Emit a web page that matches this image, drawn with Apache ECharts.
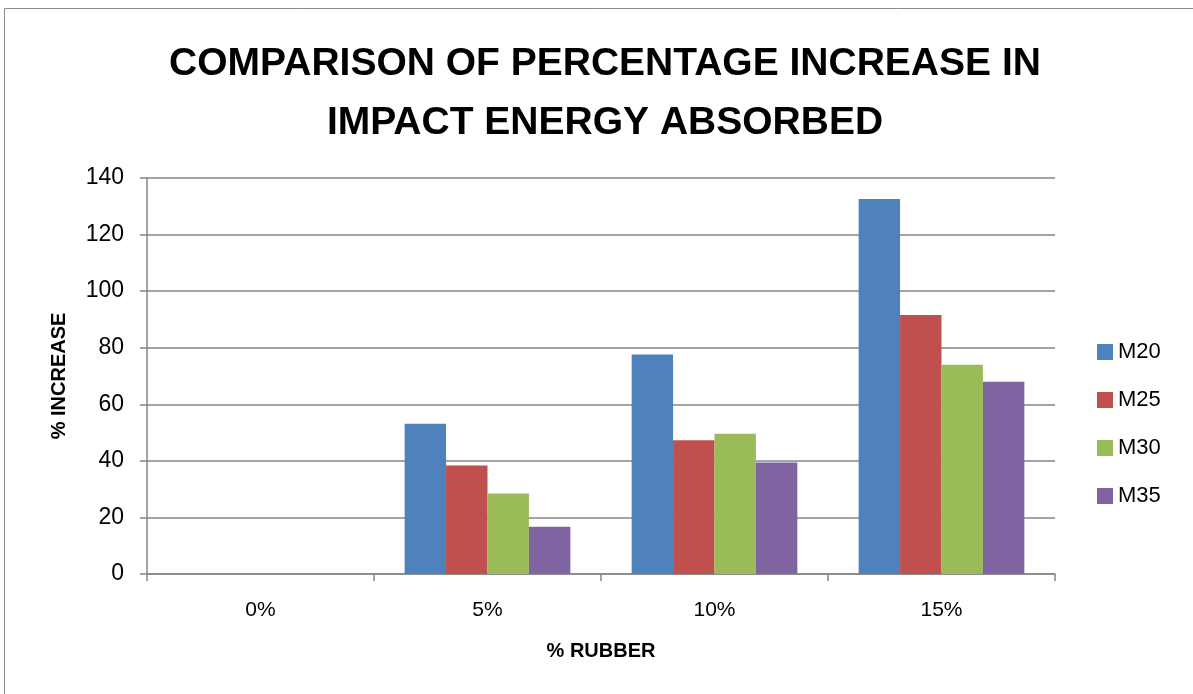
<!DOCTYPE html>
<html>
<head>
<meta charset="utf-8">
<script src="https://cdn.jsdelivr.net/npm/echarts@6/dist/echarts.min.js"></script>
<style>
  html, body { margin: 0; padding: 0; background: #fff; }
  #chart { width: 1193px; height: 694px; }
</style>
</head>
<body>
<div id="chart"></div>
<script>
var categories = ['0%', '5%', '10%', '15%']
var seriesNames = ['M20', 'M25', 'M30', 'M35']
var m20 = [0, 53.1, 77.6, 132.6]
var m25 = [0, 38.4, 47.3, 91.6]
var m30 = [0, 28.5, 49.6, 74]
var m35 = [0, 16.7, 39.4, 68]
var colors = ['#4F81BD', '#C0504D', '#9BBB59', '#8064A2']

var font = '"Liberation Sans", Arial, sans-serif'
var chart = echarts.init(document.getElementById('chart'))

var values = [m20, m25, m30, m35]
var series = seriesNames.map(function (name, i) {
  return {
    name: name,
    type: 'bar',
    barGap: '0%',
    barCategoryGap: '27%',
    itemStyle: { color: colors[i] },
    data: values[i]
  }
})

chart.setOption({
  animation: false,
  title: {
    text: 'COMPARISON OF PERCENTAGE INCREASE IN\nIMPACT ENERGY ABSORBED',
    left: 600,
    textAlign: 'center',
    top: 30,
    textStyle: {
      fontFamily: font,
      fontWeight: 'bold',
      fontSize: 39,
      lineHeight: 59,
      color: '#000'
    }
  },
  graphic: [{
    type: 'rect',
    shape: { x: 4.5, y: 8.5, width: 1240, height: 720 },
    style: { fill: null, stroke: '#8a8a8a', lineWidth: 1 },
    silent: true
  }],
  legend: {
    orient: 'vertical',
    left: 1092,
    top: 334,
    itemWidth: 16,
    itemHeight: 16,
    itemGap: 22,
    icon: 'rect',
    textStyle: { fontFamily: font, fontSize: 22, color: '#000', lineHeight: 26 },
    data: seriesNames
  },
  grid: { left: 147, right: 138, top: 178, bottom: 120 },
  xAxis: {
    type: 'category',
    data: categories,
    name: '% RUBBER',
    nameLocation: 'middle',
    nameGap: 67,
    nameTextStyle: { fontFamily: font, fontWeight: 'bold', fontSize: 20, color: '#000' },
    axisLine: { lineStyle: { color: '#868686', width: 1.5 } },
    axisTick: { show: true, length: 7, lineStyle: { color: '#868686', width: 1.5 } },
    axisLabel: { fontFamily: font, fontSize: 21, color: '#000', margin: 26 }
  },
  yAxis: {
    type: 'value',
    min: 0,
    max: 140,
    interval: 20,
    name: '% INCREASE',
    nameLocation: 'middle',
    nameGap: 78,
    nameTextStyle: { fontFamily: font, fontWeight: 'bold', fontSize: 20, color: '#000' },
    axisLine: { show: true, lineStyle: { color: '#868686', width: 1.5 } },
    axisTick: { show: true, length: 7, lineStyle: { color: '#868686', width: 1.5 } },
    axisLabel: { fontFamily: font, fontSize: 23, color: '#000', margin: 23 },
    splitLine: { lineStyle: { color: '#868686', width: 1.5 } }
  },
  series: series
})
</script>
</body>
</html>
